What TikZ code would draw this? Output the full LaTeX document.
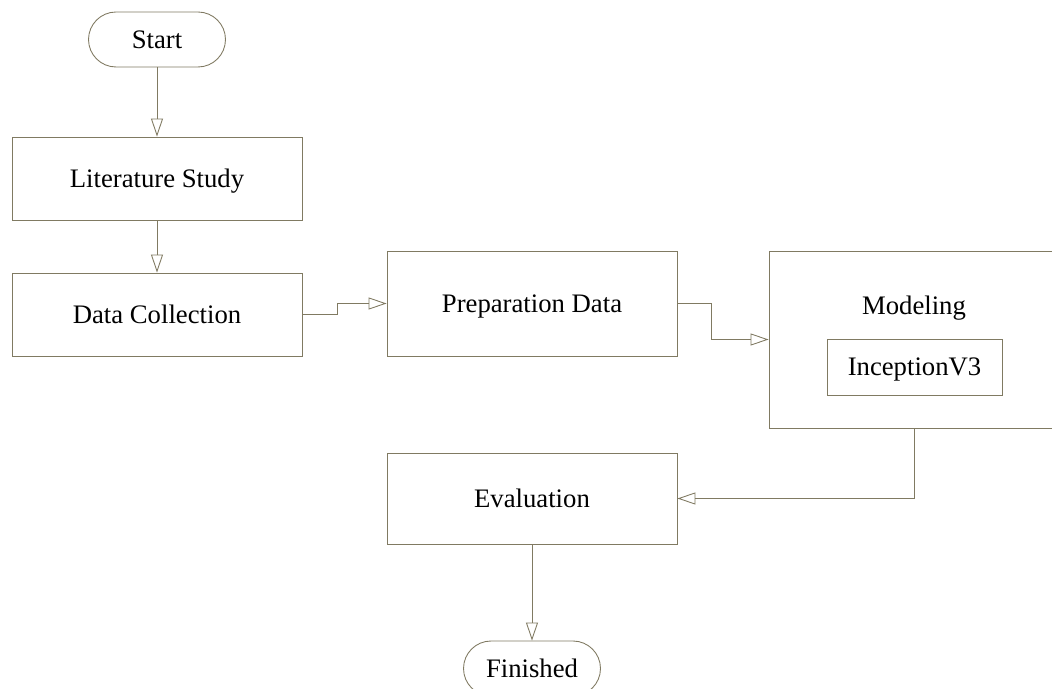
\documentclass[tikz,border=0pt]{standalone}
\usepackage{fontspec}
\setmainfont{Liberation Serif}
\usepackage{tikz}
\usetikzlibrary{arrows.meta}
\definecolor{edgegray}{RGB}{128,122,98}

\begin{document}
\begin{tikzpicture}[x=0.02cm, y=-0.02cm,
        every node/.style={font=\fontsize{15.2}{18}\selectfont, text depth=0pt},
        box/.style={rectangle, draw=edgegray, line width=0.5pt, minimum width=5.8cm, inner sep=0pt},
        term/.style={rectangle, draw=edgegray, line width=0.5pt, rounded corners=0.55cm, minimum width=2.74cm, minimum height=1.1cm, inner sep=0pt},
        flow/.style={draw=edgegray, line width=0.5pt, -{Triangle[open, length=0.36cm, width=0.24cm, fill=white]}}]
        % Flowchart
        \useasboundingbox (0, 0) rectangle (1052, 689);
        \node[term] (start) at (157, 39.5) {Start};
        \node[box, minimum height=1.66cm] (lit) at (157, 178.5) {Literature Study};
        \node[box, minimum height=1.66cm] (data) at (157, 314.5) {Data Collection};
        \node[box, minimum height=2.1cm] (prep) at (532, 303.5) {Preparation Data};
        \node[box, minimum height=3.54cm] (model) at (914, 339.5) {};
        \node (modeltitle) at (914, 305) {Modeling};
        \node[box, minimum width=3.5cm, minimum height=1.12cm] (incep) at (914.5, 367) {InceptionV3};
        \node[box, minimum height=1.82cm] (eval) at (532, 498.5) {Evaluation};
        \node[term] (finish) at (532, 668.5) {Finished};

        \draw[flow] (start) -- (lit);
        \draw[flow] (lit) -- (data);
        \draw[flow] (data.east) -- ++(35, 0) |- (prep.west);
        \draw[flow] (prep.east) -- ++(34, 0) |- (model.west);
        \draw[flow] (model.south) |- (eval.east);
        \draw[flow] (eval) -- (finish);
    \end{tikzpicture}
\end{document}
